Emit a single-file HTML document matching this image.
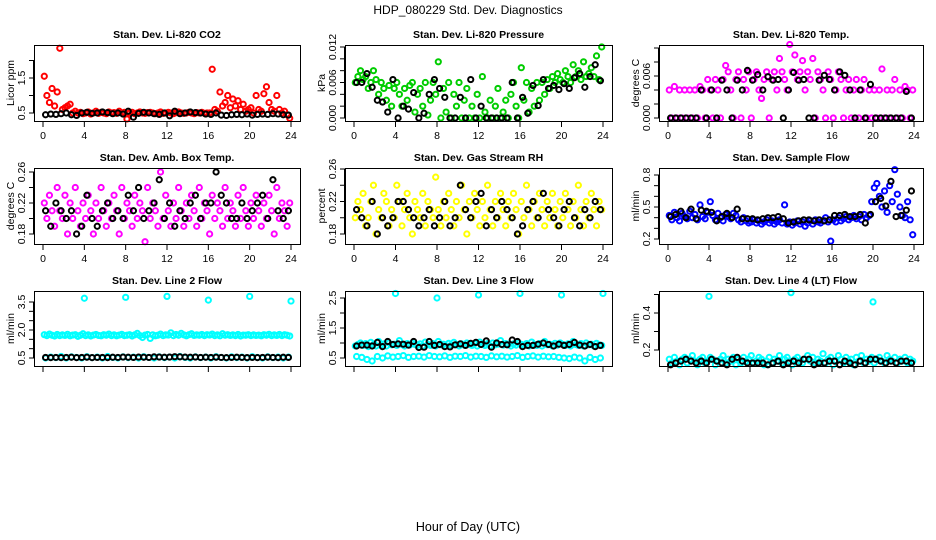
<!DOCTYPE html>
<html><head><meta charset="utf-8"><style>
html,body{margin:0;padding:0;background:#fff;}
svg{display:block;font-family:"Liberation Sans",sans-serif;}
</style></head><body>
<svg id="chart" width="936" height="540" viewBox="0 0 936 540">
<text x="468" y="14" text-anchor="middle" font-size="12">HDP_080229  Std. Dev. Diagnostics</text>
<text x="468" y="531" text-anchor="middle" font-size="12.5">Hour of Day (UTC)</text>
</svg>
<script>
const xTicks = [0,4,8,12,16,20,24];
const outHours = [4,8,12,16,20,24];
const outHours9 = [4,12,20];

const co2Red = [1.55,1.0,0.8,1.2,0.7,1.1,2.35,0.6,0.65,0.7,0.75,0.5,0.55,0.5,0.52,0.48,0.5,0.53,0.47,0.5,0.55,0.49,0.52,0.5,0.48,0.53,0.5,0.51,0.49,0.55,0.5,0.52,0.33,0.5,0.52,0.48,0.5,0.53,0.5,0.49,0.51,0.52,0.5,0.48,0.5,0.53,0.49,0.5,0.52,0.5,0.48,0.51,0.53,0.5,0.49,0.5,0.52,0.5,0.48,0.51,0.5,0.52,0.49,0.5,0.5,1.75,0.6,0.55,1.1,0.7,0.8,1.0,0.65,0.9,0.7,0.85,0.6,0.75,0.55,0.6,0.65,0.5,1.0,0.6,0.55,1.05,1.25,0.8,0.6,0.55,1.0,0.6,0.5,0.55,0.45,0.35];
const co2Black = [0.45,0.47,0.46,0.48,0.5,0.45,0.43,0.5,0.52,0.49,0.5,0.53,0.51,0.48,0.5,0.47,0.55,0.38,0.49,0.52,0.5,0.48,0.46,0.5,0.42,0.55,0.48,0.5,0.53,0.51,0.5,0.47,0.46,0.5,0.44,0.43,0.45,0.46,0.45,0.47,0.44,0.46,0.47,0.46,0.48,0.47,0.45,0.44];

const presGreen = [0.006,0.007,0.008,0.0065,0.007,0.005,0.006,0.008,0.0065,0.004,0.006,0.005,0.003,0.0055,0.002,0.005,0.006,0.004,0.002,0.005,0.003,0.0055,0.006,0.001,0.004,0.005,0.002,0.006,0.0005,0.003,0.006,0.004,0.0095,0.0,0.005,0.001,0.006,0.0,0.004,0.002,0.006,0.0,0.003,0.005,0.0,0.002,0.0,0.004,0.0,0.007,0.001,0.0,0.003,0.0,0.002,0.005,0.0,0.001,0.003,0.0,0.004,0.006,0.002,0.0,0.0085,0.003,0.006,0.001,0.005,0.002,0.006,0.003,0.006,0.004,0.0065,0.005,0.007,0.006,0.0075,0.0065,0.006,0.008,0.007,0.006,0.009,0.007,0.008,0.0065,0.0095,0.007,0.0075,0.0085,0.007,0.0105,0.0065,0.012];
const presBlack = [0.006,0.006,0.0075,0.0052,0.003,0.0027,0.001,0.0065,0.0,0.002,0.0015,0.0043,0.0,0.0008,0.004,0.0065,0.005,0.0035,0.0,0.0,0.0035,0.0,0.0065,0.0,0.002,0.0,0.0,0.0,0.0,0.0,0.006,0.0,0.0035,0.0008,0.0055,0.0021,0.0065,0.005,0.0055,0.0048,0.0058,0.005,0.0068,0.0075,0.0052,0.007,0.009,0.0063];

const tempMag = [0.004,0,0.0045,0,0.004,0,0.004,0,0.004,0,0.004,0,0.0045,0.004,0,0.0055,0.004,0,0.0055,0.004,0,0.0055,0.0075,0.0066,0.004,0,0.0055,0.0066,0,0.0055,0.004,0.0066,0,0.0055,0.0066,0.004,0.0028,0.0055,0.0066,0,0.0055,0.0066,0.004,0.0085,0.0066,0.0055,0.004,0.0105,0.0066,0.009,0.0055,0.0066,0.0082,0.004,0.0066,0.0055,0.0085,0,0.0066,0.0055,0.004,0,0.0066,0.0055,0,0.004,0.0066,0.0055,0,0.004,0.0055,0,0.004,0.0055,0,0.004,0.0055,0,0.004,0,0.004,0,0.004,0.007,0,0.004,0,0.004,0.0055,0,0.004,0,0.0045,0.004,0,0.004];
const tempBlack = [0,0,0,0,0,0,0.004,0,0.004,0,0.0054,0.004,0,0.0054,0.004,0.0068,0.0054,0.0062,0.004,0.0059,0.0054,0.0055,0,0.004,0.0065,0.0054,0.0055,0,0,0.0054,0.0061,0.0055,0.004,0.0066,0.0061,0.004,0,0.004,0,0.0048,0,0,0,0,0,0,0.0038,0];

const ambMag = [0.22,0.2,0.23,0.21,0.19,0.24,0.21,0.2,0.23,0.18,0.22,0.2,0.24,0.21,0.19,0.22,0.2,0.23,0.21,0.18,0.22,0.2,0.24,0.21,0.19,0.22,0.2,0.23,0.21,0.18,0.24,0.2,0.22,0.21,0.19,0.23,0.2,0.22,0.21,0.17,0.24,0.2,0.22,0.21,0.19,0.26,0.2,0.23,0.21,0.19,0.22,0.2,0.24,0.21,0.19,0.22,0.2,0.23,0.21,0.19,0.24,0.2,0.22,0.21,0.18,0.23,0.2,0.22,0.21,0.19,0.24,0.2,0.22,0.21,0.19,0.23,0.2,0.24,0.21,0.19,0.22,0.2,0.23,0.21,0.19,0.22,0.2,0.23,0.21,0.18,0.24,0.2,0.22,0.21,0.19,0.22];
const ambBlack = [0.21,0.19,0.22,0.21,0.2,0.21,0.18,0.19,0.23,0.2,0.19,0.21,0.22,0.2,0.21,0.2,0.23,0.21,0.24,0.2,0.21,0.22,0.25,0.2,0.22,0.19,0.21,0.2,0.22,0.23,0.2,0.22,0.22,0.26,0.23,0.22,0.2,0.2,0.22,0.2,0.21,0.22,0.23,0.2,0.25,0.21,0.2,0.21];

const rhYel = [0.2,0.22,0.21,0.23,0.19,0.2,0.22,0.24,0.18,0.21,0.2,0.23,0.22,0.19,0.21,0.2,0.24,0.22,0.19,0.21,0.23,0.2,0.18,0.22,0.21,0.2,0.23,0.19,0.22,0.21,0.2,0.25,0.21,0.19,0.22,0.2,0.23,0.21,0.19,0.22,0.2,0.24,0.21,0.18,0.22,0.2,0.23,0.21,0.19,0.22,0.2,0.24,0.21,0.19,0.22,0.2,0.23,0.21,0.19,0.22,0.2,0.23,0.21,0.18,0.22,0.2,0.24,0.21,0.19,0.22,0.2,0.23,0.21,0.19,0.22,0.2,0.23,0.21,0.19,0.22,0.2,0.23,0.21,0.19,0.22,0.2,0.24,0.21,0.19,0.22,0.2,0.23,0.21,0.19,0.22,0.21];
const rhBlack = [0.21,0.2,0.19,0.22,0.18,0.2,0.19,0.2,0.22,0.22,0.21,0.2,0.19,0.2,0.21,0.19,0.2,0.22,0.19,0.2,0.24,0.21,0.2,0.22,0.23,0.19,0.21,0.2,0.22,0.21,0.2,0.18,0.19,0.21,0.22,0.2,0.23,0.21,0.2,0.19,0.21,0.22,0.2,0.19,0.21,0.2,0.22,0.21];

const flowBlue = [0.42,0.38,0.45,0.4,0.37,0.44,0.41,0.39,0.46,0.4,0.43,0.38,0.52,0.41,0.39,0.45,0.55,0.42,0.38,0.44,0.4,0.37,0.43,0.41,0.39,0.44,0.42,0.38,0.36,0.4,0.37,0.35,0.36,0.38,0.35,0.37,0.34,0.36,0.38,0.35,0.37,0.34,0.36,0.38,0.35,0.52,0.34,0.36,0.33,0.35,0.37,0.34,0.36,0.32,0.35,0.37,0.34,0.38,0.36,0.35,0.37,0.4,0.36,0.18,0.38,0.36,0.4,0.37,0.39,0.41,0.38,0.4,0.42,0.39,0.41,0.38,0.43,0.4,0.42,0.55,0.68,0.72,0.6,0.5,0.65,0.45,0.7,0.55,0.85,0.62,0.5,0.42,0.4,0.55,0.38,0.24];
const flowBlack = [0.41,0.43,0.46,0.4,0.48,0.39,0.47,0.46,0.45,0.37,0.41,0.44,0.4,0.48,0.39,0.39,0.39,0.38,0.39,0.4,0.4,0.41,0.39,0.35,0.36,0.37,0.38,0.38,0.37,0.38,0.37,0.38,0.42,0.42,0.43,0.41,0.41,0.43,0.35,0.43,0.55,0.58,0.51,0.74,0.41,0.42,0.47,0.65];

const l2High = [1.75,1.7,1.78,1.72,1.68,1.76,1.7,1.74,1.71,1.77,1.69,1.73,1.75,1.66,1.72,1.8,1.7,1.74,1.68,1.73,1.76,1.71,1.69,1.75,1.72,1.78,1.7,1.74,1.69,1.73,1.77,1.7,1.72,1.75,1.68,1.74,1.82,1.7,1.6,1.73,1.76,1.55,1.74,1.69,1.72,1.78,1.7,1.74,1.73,1.85,1.7,1.76,1.72,1.82,1.74,1.69,1.75,1.8,1.71,1.74,1.72,1.76,1.7,1.75,1.73,1.78,1.7,1.74,1.69,1.8,1.72,1.75,1.71,1.74,1.7,1.76,1.68,1.73,1.72,1.75,1.7,1.74,1.71,1.73,1.69,1.75,1.72,1.77,1.7,1.74,1.71,1.76,1.7,1.75,1.72,1.68];
const l2Low = [0.5,0.55,0.52,0.58,0.5,0.56,0.53,0.5,0.57,0.52,0.55,0.5,0.58,0.53,0.5,0.56,0.52,0.55,0.5,0.57,0.53,0.5,0.56,0.52,0.55,0.5,0.58,0.53,0.5,0.56,0.52,0.55,0.5,0.57,0.53,0.5,0.56,0.52,0.55,0.5,0.57,0.53,0.5,0.56,0.52,0.55,0.5,0.55];
const l2Out = [3.7,3.75,3.8,3.6,3.8,3.55];
const l2Black = [0.53,0.52,0.53,0.52,0.53,0.54,0.52,0.53,0.54,0.52,0.53,0.53,0.52,0.54,0.53,0.55,0.54,0.53,0.55,0.54,0.53,0.56,0.55,0.54,0.55,0.57,0.56,0.55,0.54,0.55,0.53,0.54,0.53,0.54,0.53,0.52,0.53,0.54,0.53,0.52,0.53,0.52,0.53,0.54,0.53,0.52,0.54,0.53];

const l3High = [0.9,0.95,1.0,0.92,0.98,0.88,1.02,0.95,0.9,1.05,0.93,0.97,0.9,1.0,0.94,0.96,0.92,1.08,0.95,0.9,0.98,0.93,1.0,0.95,0.92,0.97,0.9,1.03,0.95,0.92,0.98,0.9,1.05,0.94,0.96,0.9,0.99,0.93,1.02,0.95,0.9,0.97,0.93,1.0,0.95,0.92,0.98,0.9,1.03,0.95,0.92,0.98,0.9,1.0,0.94,0.96,1.08,0.93,0.98,0.95,0.9,0.97,0.93,1.0,0.95,0.92,0.98,0.9,1.03,0.95,0.92,0.98,0.9,1.05,0.94,0.96,0.9,0.99,0.93,1.0,0.95,0.92,0.97,0.9,1.05,0.95,0.92,0.98,0.9,1.0,0.94,0.96,0.9,0.99,0.93,0.92];
const l3Low = [0.55,0.52,0.45,0.4,0.55,0.5,0.57,0.53,0.55,0.58,0.52,0.55,0.56,0.53,0.58,0.55,0.54,0.57,0.52,0.56,0.55,0.58,0.53,0.56,0.55,0.52,0.57,0.54,0.56,0.53,0.55,0.58,0.52,0.55,0.57,0.53,0.56,0.54,0.55,0.52,0.5,0.48,0.53,0.5,0.4,0.52,0.45,0.5];
const l3Out = [2.65,2.5,2.6,2.65,2.6,2.65];
const l3Black = [0.9,0.93,0.93,0.9,1.02,0.88,1.05,0.95,0.97,0.96,0.93,1.05,0.85,0.86,1.05,0.92,0.95,0.88,0.87,0.94,0.97,0.92,0.99,1.02,0.95,1.07,0.86,1.0,0.95,0.94,1.1,1.05,0.88,0.92,0.92,0.96,1.0,0.95,0.9,0.96,0.92,0.95,1.02,0.93,0.9,0.95,0.88,0.92];

const l4Cyan = [0.15,0.13,0.16,0.14,0.12,0.15,0.16,0.13,0.15,0.17,0.14,0.12,0.15,0.16,0.13,0.14,0.16,0.15,0.12,0.14,0.15,0.17,0.13,0.15,0.14,0.16,0.12,0.15,0.13,0.16,0.14,0.15,0.17,0.13,0.14,0.16,0.15,0.12,0.14,0.16,0.13,0.15,0.14,0.17,0.13,0.15,0.16,0.14,0.12,0.15,0.16,0.14,0.13,0.15,0.17,0.14,0.16,0.13,0.15,0.14,0.18,0.13,0.15,0.16,0.12,0.14,0.17,0.15,0.13,0.16,0.14,0.15,0.12,0.16,0.14,0.17,0.13,0.15,0.14,0.16,0.13,0.15,0.16,0.14,0.13,0.17,0.15,0.14,0.16,0.13,0.15,0.14,0.16,0.13,0.15,0.14];
const l4Out = [0.49,0.51,0.46];
const l4Black = [0.12,0.13,0.14,0.15,0.14,0.13,0.14,0.13,0.15,0.14,0.13,0.12,0.15,0.16,0.14,0.13,0.13,0.13,0.13,0.12,0.13,0.14,0.12,0.13,0.14,0.13,0.15,0.15,0.12,0.13,0.13,0.14,0.14,0.12,0.14,0.13,0.12,0.14,0.13,0.15,0.15,0.14,0.13,0.14,0.13,0.14,0.14,0.13];

const panels = [
 {name:'co2', title:'Stan. Dev. Li-820 CO2', ylab:'Licor ppm', box:[34,45,300,121], yref:[0.5,113,1.5,78], ticks:[0.5,1,1.5,2], labels:['0.5','1.5'], labelVals:[0.5,1.5], xlab:true,
  series:[{d:co2Red,c:'#ff0000'},{d:co2Black,c:'#000'}]},
 {name:'pressure', title:'Stan. Dev. Li-820 Pressure', ylab:'kPa', box:[345,45,612,121], yref:[0,118,0.012,47], ticks:[0,0.002,0.004,0.006,0.008,0.01,0.012], labels:['0.000','0.006','0.012'], labelVals:[0,0.006,0.012], xlab:true,
  series:[{d:presGreen,c:'#00cd00'},{d:presBlack,c:'#000'}]},
 {name:'temp', title:'Stan. Dev. Li-820 Temp.', ylab:'degrees C', box:[659,45,923,121], yref:[0,118,0.006,76], ticks:[0,0.002,0.004,0.006,0.008,0.01], labels:['0.000','0.006'], labelVals:[0,0.006], xlab:true,
  series:[{d:tempMag,c:'#ff00ff'},{d:tempBlack,c:'#000'}]},
 {name:'amb-box', title:'Stan. Dev. Amb. Box Temp.', ylab:'degrees C', box:[34,168,300,244], yref:[0.18,234,0.26,172], ticks:[0.18,0.2,0.22,0.24,0.26], labels:['0.18','0.22','0.26'], labelVals:[0.18,0.22,0.26], xlab:true,
  series:[{d:ambMag,c:'#ff00ff'},{d:ambBlack,c:'#000'}]},
 {name:'gas-rh', title:'Stan. Dev. Gas Stream RH', ylab:'percent', box:[345,168,612,244], yref:[0.18,234,0.26,169], ticks:[0.18,0.2,0.22,0.24,0.26], labels:['0.18','0.22','0.26'], labelVals:[0.18,0.22,0.26], xlab:true,
  series:[{d:rhYel,c:'#ffff00'},{d:rhBlack,c:'#000'}]},
 {name:'sample-flow', title:'Stan. Dev. Sample Flow', ylab:'ml/min', box:[659,168,923,244], yref:[0.2,239,0.8,175], ticks:[0.2,0.3,0.4,0.5,0.6,0.7,0.8], labels:['0.2','0.5','0.8'], labelVals:[0.2,0.5,0.8], xlab:true,
  series:[{d:flowBlue,c:'#0000ff'},{d:flowBlack,c:'#000'}]},
 {name:'line2', title:'Stan. Dev. Line 2 Flow', ylab:'ml/min', box:[34,291,300,366], yref:[0.5,358,3.5,302], ticks:[0.5,1,1.5,2,2.5,3,3.5], labels:['0.5','2.0','3.5'], labelVals:[0.5,2,3.5], xlab:false,
  series:[{d:l2High,c:'#00ffff'},{d:l2Low,c:'#00ffff'},{d:l2Out,c:'#00ffff',t:outHours},{d:l2Black,c:'#000'}]},
 {name:'line3', title:'Stan. Dev. Line 3 Flow', ylab:'ml/min', box:[345,291,612,366], yref:[0.5,358,2.5,298], ticks:[0.5,1,1.5,2,2.5], labels:['0.5','1.5','2.5'], labelVals:[0.5,1.5,2.5], xlab:false,
  series:[{d:l3High,c:'#00ffff'},{d:l3Low,c:'#00ffff'},{d:l3Out,c:'#00ffff',t:outHours},{d:l3Black,c:'#000'}]},
 {name:'line4', title:'Stan. Dev. Line 4 (LT) Flow', ylab:'ml/min', box:[659,291,923,366], yref:[0.2,350,0.4,313], ticks:[0.2,0.3,0.4,0.5], labels:['0.2','0.4'], labelVals:[0.2,0.4], xlab:false,
  series:[{d:l4Cyan,c:'#00ffff'},{d:l4Out,c:'#00ffff',t:outHours9},{d:l4Black,c:'#000'}]}
];

const NS='http://www.w3.org/2000/svg';
const svg=document.getElementById('chart');
function mk(tag,attrs,parent){const e=document.createElementNS(NS,tag);for(const k in attrs)e.setAttribute(k,attrs[k]);(parent||svg).appendChild(e);return e;}

panels.forEach(p=>{
  const [x0,y0,x1,y1]=p.box;
  const g=mk('g',{});
  
  
  const xs=h=>x0+9+h*(x1-x0-18)/24;
  const ys=v=>p.yref[1]+(v-p.yref[0])*(p.yref[3]-p.yref[1])/(p.yref[2]-p.yref[0]);
  const cx=(x0+x1)/2;
  const t=mk('text',{x:cx,y:y0-7,'text-anchor':'middle','font-size':'10.5','font-weight':'bold'},g);
  t.textContent=p.title;
  
  
  const pts=mk('g',{fill:'none','stroke-width':'2'},g);
  
  
  p.series.forEach(s=>{
    s.d.forEach((v,i)=>{
      const h=s.t?s.t[i]:(i+0.5)*24/s.d.length;
      const c=mk('circle',{cx:xs(h),cy:ys(v),r:2.6,stroke:s.c},pts);
      
      
    });
  });
  const b=mk('rect',{x:x0+0.5,y:y0+0.5,width:x1-x0,height:y1-y0,fill:'none',stroke:'#000','stroke-width':'1'},g);
  
  
  const xa=mk('g',{},g);
  
  
  xTicks.forEach(h=>{
    mk('line',{x1:xs(h),x2:xs(h),y1:y1+0.5,y2:y1+6,stroke:'#000'},xa);
    if(p.xlab){const l=mk('text',{x:xs(h),y:y1+18,'text-anchor':'middle','font-size':'10.5'},xa);l.textContent=h;}
  });
  mk('line',{x1:xs(0),x2:xs(24),y1:y1+0.5,y2:y1+0.5,stroke:'#000'},xa);
  const ya=mk('g',{},g);
  
  
  p.ticks.forEach(v=>{mk('line',{x1:x0-5,x2:x0+0.5,y1:ys(v),y2:ys(v),stroke:'#000'},ya);});
  mk('line',{x1:x0-0.5,x2:x0-0.5,y1:ys(p.ticks[0]),y2:ys(p.ticks[p.ticks.length-1]),stroke:'#000'},ya);
  p.labels.forEach((lab,i)=>{
    const y=ys(p.labelVals[i]);
    const l=mk('text',{x:0,y:0,'text-anchor':'middle','font-size':'10.5',transform:`translate(${x0-9},${y}) rotate(-90)`},ya);
    l.textContent=lab;
  });
  const yl=mk('text',{x:0,y:0,'text-anchor':'middle','font-size':'10.5',transform:`translate(${x0-20},${(y0+y1)/2}) rotate(-90)`},g);
  yl.textContent=p.ylab;
  
  
});
</script>
</body></html>
